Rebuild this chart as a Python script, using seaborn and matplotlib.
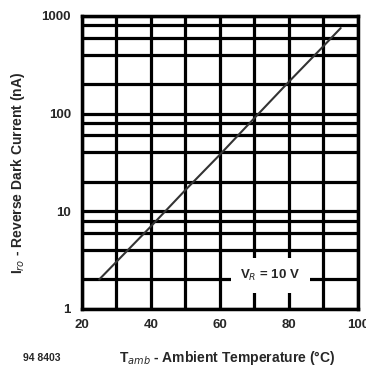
import numpy as np
import pandas as pd
import seaborn as sns
import matplotlib.pyplot as plt
from matplotlib.ticker import FixedLocator, NullFormatter

# datos
temp = [25, 40, 50, 60, 70, 80, 90, 95]
dark_current = [2, 7, 16.5, 38, 90, 212, 490, 750]

x_ticks = [20, 40, 60, 80, 100]
y_ticks = [1, 10, 100, 1000]
y_minor = [2, 4, 6, 8, 20, 40, 60, 80, 200, 400, 600, 800]

df = pd.DataFrame({'T': temp, 'I': dark_current})

sns.set_style('white')
plt.rcParams['font.family'] = ['Liberation Sans', 'DejaVu Sans']

fig = plt.figure(figsize=(3.66, 3.69), dpi=100)
ax = fig.add_axes([0.224, 0.163, 0.754, 0.794])

sns.lineplot(data=df, x='T', y='I', color='#333333', linewidth=1.5, ax=ax,
             zorder=5)

ax.set_yscale('log')
ax.set_xlim(20, 100)
ax.set_ylim(1, 1000)

ax.set_xticks(x_ticks)
ax.set_xticks(range(20, 101, 10), minor=True)
ax.set_yticks(y_ticks)
ax.set_yticklabels([str(v) for v in y_ticks])
ax.yaxis.set_minor_locator(FixedLocator(y_minor))
ax.yaxis.set_minor_formatter(NullFormatter())

ax.grid(True, which='both', color='black', linewidth=2.3)
for s in ax.spines.values():
    s.set_color('black')
    s.set_linewidth(2.5)

ax.tick_params(axis='x', which='both', length=3, width=2.3, color='black',
               direction='out', labelsize=9.5, pad=4)
ax.tick_params(axis='y', which='both', length=0, labelsize=9.5, pad=8)
for lbl in ax.get_xticklabels() + ax.get_yticklabels():
    lbl.set_fontweight('bold')

ax.set_xlabel('')
ax.set_ylabel('')

fig.text(0.048, 0.532, r'I$_{ro}$ - Reverse Dark Current (nA)', rotation=90,
         ha='center', va='center', fontsize=10, fontweight='bold')
fig.text(0.62, 0.03, r'T$_{amb}$ - Ambient Temperature (°C)',
         ha='center', va='center', fontsize=10, fontweight='bold')
fig.text(0.115, 0.03, '94 8403', ha='center', va='center', fontsize=7.5,
         fontweight='bold')

ax.text(74.6, 2.2, r'V$_R$ = 10 V', ha='center', va='center', fontsize=9.5,
        fontweight='bold',
        bbox=dict(facecolor='white', edgecolor='none', pad=7))

fig.savefig('out.png', dpi=100)
